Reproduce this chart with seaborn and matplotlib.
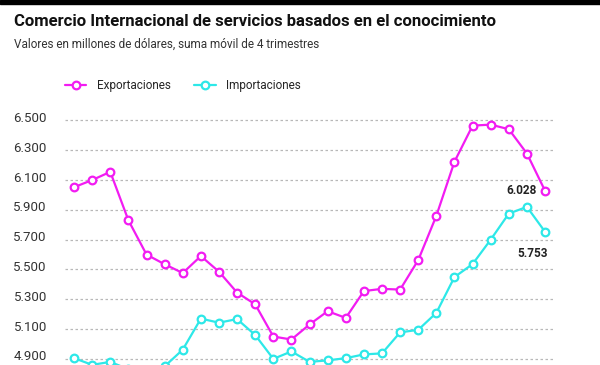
import pandas as pd
import seaborn as sns
import matplotlib.pyplot as plt
from matplotlib.patches import Rectangle
from matplotlib.transforms import ScaledTranslation

# moving 4-quarter sums, millions of USD
trimestre = list(range(27))
exportaciones = [6052, 6100, 6155, 5830, 5600, 5535, 5476, 5590, 5485, 5345,
                 5266, 5050, 5030, 5131, 5220, 5175, 5355, 5370, 5365, 5563,
                 5860, 6223, 6465, 6472, 6441, 6278, 6028]
importaciones = [4905, 4860, 4880, 4830, 4820, 4850, 4962, 5170, 5143, 5167,
                 5060, 4900, 4950, 4880, 4890, 4905, 4930, 4937, 5078, 5095,
                 5209, 5449, 5536, 5700, 5875, 5920, 5753]
y_ticks = [4900, 5100, 5300, 5500, 5700, 5900, 6100, 6300, 6500]

df = pd.DataFrame({"t": trimestre, "exp": exportaciones, "imp": importaciones})

sns.set_theme(style="white")
plt.rcParams["font.family"] = ["Roboto", "DejaVu Sans"]

fig = plt.figure(figsize=(6, 3.65), dpi=100)
fig.patches.append(Rectangle((0, 361/365), 1, 4/365, transform=fig.transFigure,
                             color="black", zorder=10))

ax = fig.add_axes([65/600, 0, 490/600, 255/365])

mag = "#f21cf2"
cya = "#2de8e8"
for col, color, label in [("exp", mag, "Exportaciones"), ("imp", cya, "Importaciones")]:
    sns.lineplot(data=df, x="t", y=col, ax=ax, color=color, label=label,
                 marker="o", markersize=5.5, markerfacecolor="white",
                 markeredgecolor=color, markeredgewidth=1.6, linewidth=1.6)

ax.set_xlim(-0.5, 26.55)
ax.set_ylim(4859, 6570)
ax.set_yticks(y_ticks)
ax.set_yticklabels([f"{v:,}".replace(",", ".") for v in y_ticks])
ax.tick_params(axis="y", length=0, pad=13, labelsize=9.5, labelcolor="#333333")
# labels sit a little above their gridlines
shift = ScaledTranslation(0, 3.5/100, fig.dpi_scale_trans)
for lab in ax.get_yticklabels():
    lab.set_transform(lab.get_transform() + shift)
ax.set_xticks([])
ax.set_xlabel("")
ax.set_ylabel("")
for s in ax.spines.values():
    s.set_visible(False)
for v in y_ticks:
    ax.axhline(v, color="#b8b8b8", lw=0.9, ls=(0, (2, 2)), zorder=0)

ax.annotate(f"{exportaciones[-1]:,}".replace(",", "."), xy=(26, exportaciones[-1]),
            xytext=(-6, 0), textcoords="offset points", ha="right", va="center",
            fontsize=8.5, fontweight="bold", color="#222222")
ax.annotate(f"{importaciones[-1]:,}".replace(",", "."), xy=(26, importaciones[-1]),
            xytext=(-9, -15.5), textcoords="offset points", ha="center", va="center",
            fontsize=8.5, fontweight="bold", color="#222222")

handles, labels = ax.get_legend_handles_labels()
ax.get_legend().remove()
fig.legend(handles, labels, loc="center left", bbox_to_anchor=(65/600, 1 - 86/365),
           ncol=2, frameon=False, fontsize=8.5, handlelength=1.8, handletextpad=0.9,
           columnspacing=2.0, borderpad=0, borderaxespad=0)

fig.text(14/600, 1 - 21/365, "Comercio Internacional de servicios basados en el conocimiento",
         fontsize=12, fontweight="bold", color="#111111", va="center")
fig.text(14/600, 1 - 44/365, "Valores en millones de dólares, suma móvil de 4 trimestres",
         fontsize=8.5, color="#333333", va="center")

fig.savefig("out.png", dpi=100)
